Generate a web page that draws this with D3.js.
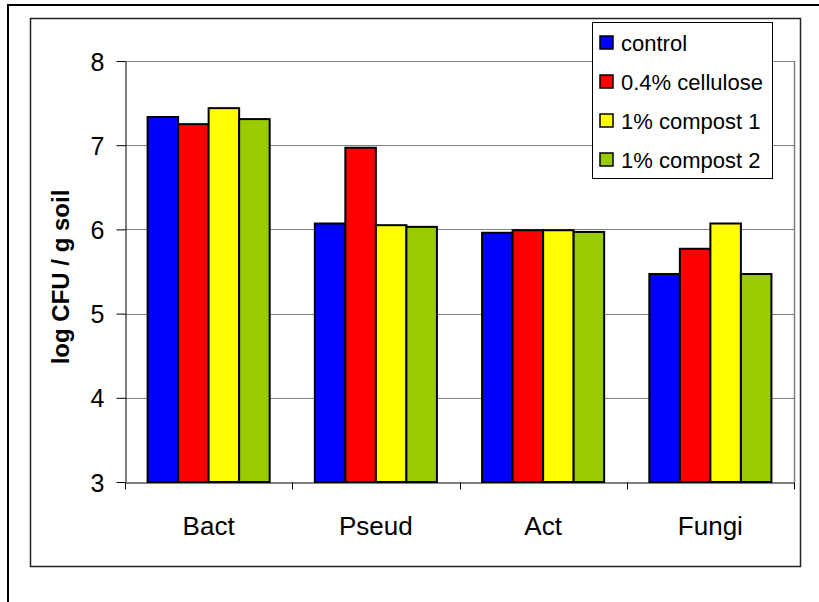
<!DOCTYPE html>
<html>
<head>
<meta charset="utf-8">
<script src="https://cdn.jsdelivr.net/npm/d3@7"></script>
<style>
  html, body { margin: 0; padding: 0; background: #fff; }
  svg { display: block; }
  text { font-family: "Liberation Sans", Arial, sans-serif; fill: #000; }
</style>
</head>
<body>
<svg id="chart" width="819" height="602"></svg>
<script>
const categories = ["Bact", "Pseud", "Act", "Fungi"];
const seriesNames = ["control", "0.4% cellulose", "1% compost 1", "1% compost 2"];
const seriesColors = ["#0000FF", "#FF0000", "#FFFF00", "#99CC00"];
const control    = [7.335, 6.07, 5.96, 5.47];
const cellulose  = [7.25, 6.97, 5.99, 5.77];
const compost1   = [7.44, 6.05, 5.99, 6.07];
const compost2   = [7.31, 6.03, 5.97, 5.47];
const yTicks = [3, 4, 5, 6, 7, 8];
const yLabel = "log CFU / g soil";

const seriesValues = [control, cellulose, compost1, compost2];

const svg = d3.select("#chart");

// outer frame (partially clipped)
svg.append("rect").attr("x", 8).attr("y", 5).attr("width", 900).attr("height", 700)
  .attr("fill", "none").attr("stroke", "#000").attr("stroke-width", 2);

// chart area border
svg.append("rect").attr("x", 30.5).attr("y", 18.5).attr("width", 770).attr("height", 548)
  .attr("fill", "#fff").attr("stroke", "#222").attr("stroke-width", 1.5);

const pLeft = 125, pRight = 794, pTop = 61, pBottom = 482;

const x0 = d3.scaleBand().domain(categories).range([pLeft, pRight]).paddingInner(0).paddingOuter(0);
const x1 = d3.scaleBand().domain(seriesNames).range([0, x0.bandwidth()]).paddingInner(0).paddingOuter(0.74);
const y = d3.scaleLinear().domain([3, 8]).range([pBottom, pTop]);

// gridlines
svg.append("g").selectAll("line").data(yTicks.filter(t => t > 3)).join("line")
  .attr("x1", pLeft).attr("x2", pRight)
  .attr("y1", d => Math.round(y(d)) + 0.5).attr("y2", d => Math.round(y(d)) + 0.5)
  .attr("stroke", "#808080").attr("stroke-width", 1);

// right plot border
svg.append("line").attr("x1", pRight + 0.5).attr("x2", pRight + 0.5).attr("y1", pTop).attr("y2", pBottom)
  .attr("stroke", "#808080").attr("stroke-width", 1.5);

// bars
const rows = [];
categories.forEach((c, ci) => {
  seriesNames.forEach((s, si) => rows.push({ c, s, si, v: seriesValues[si][ci] }));
});
svg.append("g").selectAll("rect").data(rows).join("rect")
  .attr("x", d => x0(d.c) + x1(d.s))
  .attr("y", d => y(d.v))
  .attr("width", x1.bandwidth())
  .attr("height", d => y(3) - y(d.v))
  .attr("fill", d => seriesColors[d.si])
  .attr("stroke", "#000").attr("stroke-width", 2);

// y axis
const yAxis = d3.axisLeft(y).tickValues(yTicks).tickFormat(d3.format("d"))
  .tickSize(9).tickSizeOuter(0).tickPadding(12);
const gy = svg.append("g").attr("transform", `translate(${pLeft + 0.5},0)`).call(yAxis);
gy.select(".domain").attr("stroke", "#000").attr("stroke-width", 1);
gy.selectAll(".tick line").attr("stroke", "#000");
gy.selectAll(".tick text").attr("font-size", 25).attr("font-family", "Liberation Sans, Arial, sans-serif")
  .attr("fill", "#000").attr("dy", "0.36em");

// x axis
const xAxis = d3.axisBottom(x0).tickSize(0).tickSizeOuter(0).tickPadding(34);
const gx = svg.append("g").attr("transform", `translate(0,${pBottom + 0.5})`).call(xAxis);
gx.select(".domain").attr("stroke", "#000").attr("stroke-width", 1);
gx.selectAll(".tick text").attr("font-size", 26).attr("font-family", "Liberation Sans, Arial, sans-serif")
  .attr("fill", "#000");
// category boundary ticks
const bounds = categories.map(c => x0(c)).concat([pRight]);
gx.append("g").selectAll("line").data(bounds).join("line")
  .attr("x1", d => Math.round(d) + 0.5).attr("x2", d => Math.round(d) + 0.5)
  .attr("y1", 0).attr("y2", 7).attr("stroke", "#000");

// y label
svg.append("text")
  .attr("transform", `translate(69,277) rotate(-90)`)
  .attr("text-anchor", "middle")
  .attr("font-size", 24).attr("font-weight", "bold")
  .text(yLabel);

// legend
const lg = svg.append("g");
lg.append("rect").attr("x", 592.5).attr("y", 22.5).attr("width", 180).attr("height", 156)
  .attr("fill", "#fff").attr("stroke", "#000").attr("stroke-width", 1);
const rowY = d3.scalePoint().domain(seriesNames).range([43, 160]);
const items = lg.selectAll("g.item").data(seriesNames).join("g").attr("class", "item");
items.append("rect").attr("x", 600).attr("y", d => rowY(d) - 7).attr("width", 13).attr("height", 13)
  .attr("fill", (d, i) => seriesColors[i]).attr("stroke", "#000").attr("stroke-width", 1.5);
items.append("text").attr("x", 621).attr("y", d => rowY(d)).attr("dy", "0.36em")
  .attr("font-size", 22).text(d => d);
</script>
</body>
</html>
